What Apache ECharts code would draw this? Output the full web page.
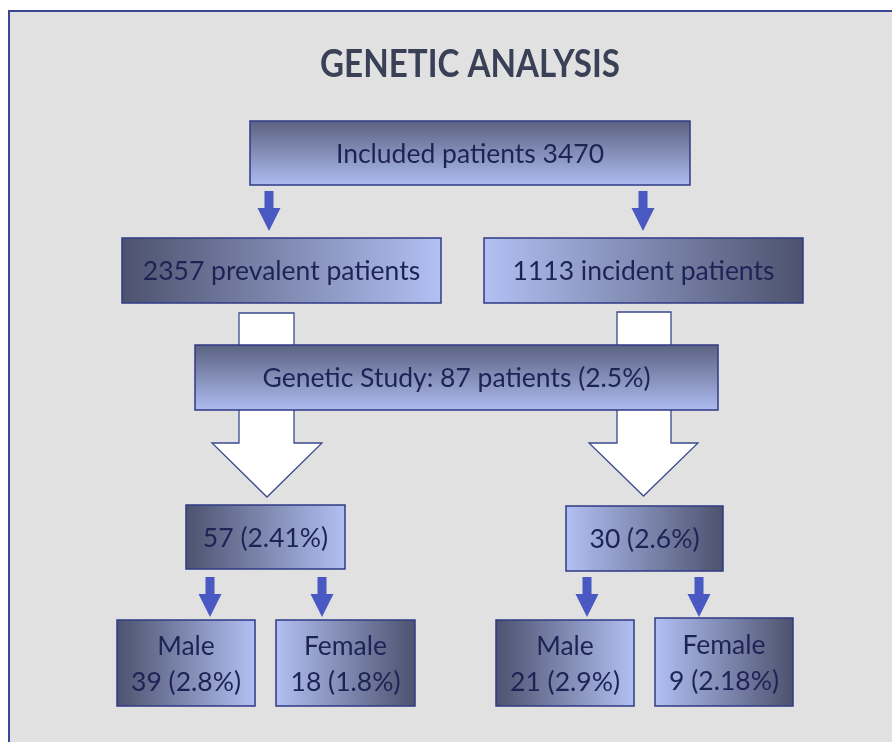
<!DOCTYPE html>
<html>
<head>
<meta charset="utf-8">
<script src="https://cdn.jsdelivr.net/npm/echarts@6/dist/echarts.min.js"></script>
<style>
  html, body { margin: 0; padding: 0; background: #fff; }
  #flow { width: 892px; height: 742px; }
</style>
</head>
<body>
<div id="flow"></div>
<script>
// values
let chartTitle = 'GENETIC ANALYSIS';
let totalPatients = 3470;
let groupNames = ['prevalent', 'incident'];
let groupCounts = [2357, 1113];
let geneticCount = 87;
let geneticPct = '2.5%';
let groupGenetic = [57, 30];
let groupGeneticPct = ['2.41%', '2.6%'];
let sexNames = ['Male', 'Female'];
let sexCounts = [39, 18, 21, 9];
let sexPcts = ['2.8%', '1.8%', '2.9%', '2.18%'];

// texts of the boxes, in the same order as the layout below
let boxTexts = [
  'Included patients ' + totalPatients,
  groupCounts[0] + ' ' + groupNames[0] + ' patients',
  groupCounts[1] + ' ' + groupNames[1] + ' patients',
  'Genetic Study: ' + geneticCount + ' patients (' + geneticPct + ')',
  groupGenetic[0] + ' (' + groupGeneticPct[0] + ')',
  groupGenetic[1] + ' (' + groupGeneticPct[1] + ')'
];
for (let i = 0; i < sexCounts.length; i++) {
  boxTexts.push(sexNames[i % 2] + '\n' + sexCounts[i] + ' (' + sexPcts[i] + ')');
}

// layout (pixels of the drawing area): x0, y0, x1, y1, gradient kind
let boxLayout = [
  [250, 121, 690, 185, 'v'],
  [122, 238, 441, 303, 'lr'],
  [484, 238, 803, 303, 'rl'],
  [195, 345, 718, 410, 'v'],
  [186, 505, 345, 569, 'lr'],
  [566, 506, 723, 571, 'rl'],
  [117, 620, 255, 706, 'lr'],
  [276, 620, 415, 706, 'rl'],
  [496, 620, 634, 706, 'lr'],
  [655, 618, 793, 706, 'rl']
];
// small blue arrows: centre x, top y, tip y
let smallArrows = [
  [269, 191, 231], [643, 191, 231],
  [210, 577, 617], [322, 577, 617],
  [587, 577, 617], [699, 577, 617]
];
// white block arrows: stem x0, stem x1, top y, head x0, head x1, head y, tip y
let bigArrows = [
  [239, 294, 313, 212, 322, 443, 497],
  [617, 671, 312, 589, 698, 443, 496]
];

let darkC = '#4c526e';
let lightC = '#b2c0f3';
let gradFor = (kind) => {
  if (kind === 'v') {
    return new echarts.graphic.LinearGradient(0, 0, 0, 1, [
      { offset: 0, color: '#5a6180' }, { offset: 1, color: '#aebcf0' }
    ]);
  }
  let stops = [{ offset: 0, color: darkC }, { offset: 1, color: lightC }];
  if (kind === 'rl') stops = [{ offset: 0, color: lightC }, { offset: 1, color: darkC }];
  return new echarts.graphic.LinearGradient(0, 0, 1, 0, stops);
};

let chart = echarts.init(document.getElementById('flow'), null, { renderer: 'canvas' });

let option = {
  animation: false,
  backgroundColor: '#ffffff',
  graphic: [
    {
      type: 'rect', z: -10, silent: true,
      shape: { x: 9, y: 11, width: 900, height: 750 },
      style: { fill: '#e1e1e1', stroke: '#3b4790', lineWidth: 2 }
    },
    {
      type: 'text', z: 10, x: 470, y: 64, scaleX: 0.85,
      style: {
        text: chartTitle, align: 'center', verticalAlign: 'middle',
        font: 'bold 39px Lato', fill: '#3a4056'
      }
    }
  ],
  grid: { left: 0, right: 0, top: 0, bottom: 0 },
  xAxis: { type: 'value', min: 0, max: 892, show: false },
  yAxis: { type: 'value', min: 0, max: 742, inverse: true, show: false },
  series: [
    {
      type: 'custom', z: 1,
      data: bigArrows,
      renderItem: (params, api) => {
        let a = bigArrows[params.dataIndex];
        let pts = [
          [a[0], a[2]], [a[1], a[2]], [a[1], a[5]], [a[4], a[5]],
          [(a[3] + a[4]) / 2, a[6]], [a[3], a[5]], [a[0], a[5]]
        ].map(p => api.coord(p));
        return {
          type: 'polygon', shape: { points: pts },
          style: { fill: '#ffffff', stroke: '#3a4a8c', lineWidth: 1.3 }
        };
      }
    },
    {
      type: 'custom', z: 2,
      data: smallArrows,
      renderItem: (params, api) => {
        let a = smallArrows[params.dataIndex];
        let cx = a[0], y0 = a[1], y1 = a[2], yh = y1 - 23;
        let pts = [
          [cx - 4.5, y0], [cx + 4.5, y0], [cx + 4.5, yh], [cx + 11.5, yh],
          [cx, y1], [cx - 11.5, yh], [cx - 4.5, yh]
        ].map(p => api.coord(p));
        return { type: 'polygon', shape: { points: pts }, style: { fill: '#4a59c2' } };
      }
    },
    {
      type: 'custom', z: 3,
      data: boxLayout.map(b => b.slice(0, 4)),
      renderItem: (params, api) => {
        let p0 = api.coord([api.value(0), api.value(1)]);
        let p1 = api.coord([api.value(2), api.value(3)]);
        let kind = boxLayout[params.dataIndex][4];
        return {
          type: 'group',
          children: [
            {
              type: 'rect',
              shape: { x: p0[0], y: p0[1], width: p1[0] - p0[0], height: p1[1] - p0[1] },
              style: { fill: gradFor(kind), stroke: '#2f3a86', lineWidth: 1.5 }
            },
            {
              type: 'text',
              style: {
                text: boxTexts[params.dataIndex],
                x: (p0[0] + p1[0]) / 2, y: (p0[1] + p1[1]) / 2 + 1,
                align: 'center', verticalAlign: 'middle',
                font: '26.5px Lato', lineHeight: 36, fill: '#1e2356'
              }
            }
          ]
        };
      }
    }
  ]
};
chart.setOption(option);
</script>
</body>
</html>
